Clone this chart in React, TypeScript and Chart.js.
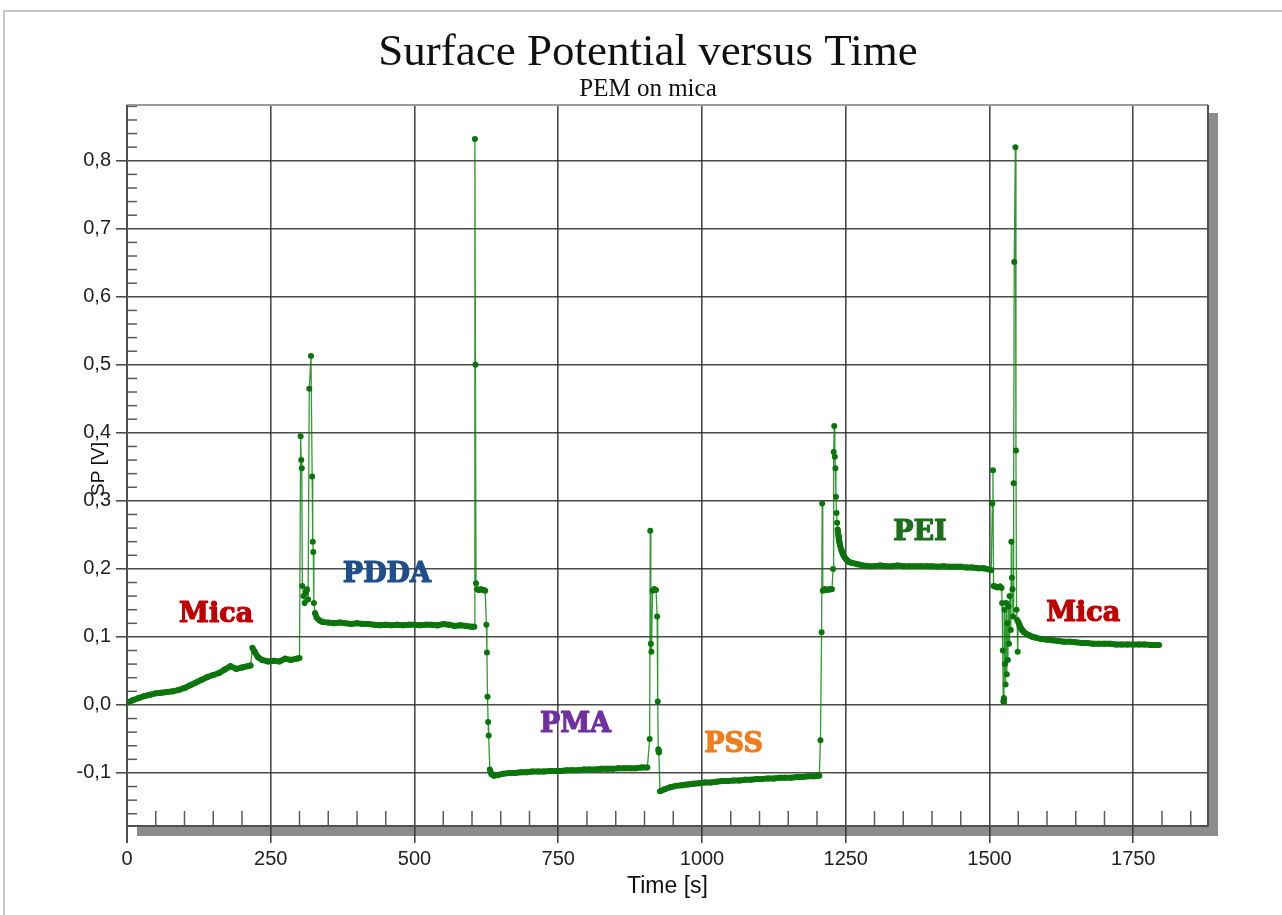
import React, { useEffect, useRef } from "react";
import { Chart, registerables } from "chart.js";

Chart.register(...registerables);

// ---- texts ----
const chartTitle = "Surface Potential versus Time";
const chartSubtitle = "PEM on mica";
const xAxisTitle = "Time [s]";
const yAxisTitle = "SP [V]";

// ---- axis settings ----
const xTickValues = [0, 250, 500, 750, 1000, 1250, 1500, 1750];
const yTickValues = [-0.1, 0, 0.1, 0.2, 0.3, 0.4, 0.5, 0.6, 0.7, 0.8];
const xMin = 0;
const xMax = 1880;
const yMin = -0.178;
const yMax = 0.882;

// ---- data: [time s, SP V] ----
const micaBare: [number, number][] = [
  [0, 0.003], [10, 0.007], [20, 0.010], [30, 0.013], [40, 0.015], [50, 0.017],
  [60, 0.018], [70, 0.019], [80, 0.020], [90, 0.022], [100, 0.025], [110, 0.029],
  [120, 0.033], [130, 0.037], [140, 0.041], [150, 0.044], [160, 0.047], [170, 0.052],
  [180, 0.057], [190, 0.053], [200, 0.055], [210, 0.057], [215, 0.058], [218, 0.084],
  [222, 0.078], [228, 0.070], [235, 0.066], [245, 0.064], [255, 0.065], [265, 0.064],
  [275, 0.068], [285, 0.066], [295, 0.068], [300, 0.069],
];

const pddaLayer: [number, number][] = [
  [302, 0.395], [303, 0.360], [304, 0.348], [305, 0.175], [307, 0.160], [309, 0.150],
  [311, 0.165], [313, 0.170], [315, 0.155], [317, 0.465], [320, 0.513], [322, 0.336],
  [323, 0.240], [324, 0.225], [325, 0.150], [327, 0.135], [330, 0.128], [335, 0.124],
  [340, 0.122], [350, 0.121], [360, 0.120], [370, 0.121], [380, 0.120], [390, 0.119],
  [400, 0.120], [410, 0.119], [420, 0.119], [430, 0.118], [440, 0.117], [450, 0.118],
  [460, 0.117], [470, 0.118], [480, 0.117], [490, 0.118], [500, 0.118], [510, 0.117],
  [520, 0.118], [530, 0.118], [540, 0.117], [550, 0.119], [560, 0.118], [570, 0.116],
  [580, 0.117], [590, 0.116], [600, 0.115], [604, 0.115],
];

const pmaLayer: [number, number][] = [
  [605, 0.832], [606, 0.500], [607, 0.179], [609, 0.170], [612, 0.169], [616, 0.170],
  [620, 0.169], [623, 0.168], [625, 0.118], [626, 0.077], [627, 0.012], [628, -0.025],
  [629, -0.045], [631, -0.095], [634, -0.102], [638, -0.104], [645, -0.103], [655, -0.101],
  [665, -0.100], [675, -0.100], [685, -0.099], [695, -0.099], [705, -0.098], [715, -0.098],
  [725, -0.098], [735, -0.097], [745, -0.097], [755, -0.097], [765, -0.096], [775, -0.096],
  [785, -0.096], [795, -0.095], [805, -0.095], [815, -0.095], [825, -0.094], [835, -0.094],
  [845, -0.094], [855, -0.093], [865, -0.093], [875, -0.093], [885, -0.093], [895, -0.092],
  [905, -0.092],
];

const pssLayer: [number, number][] = [
  [909, -0.050], [910, 0.256], [911, 0.090], [912, 0.078], [914, 0.168], [917, 0.170],
  [920, 0.169], [922, 0.130], [923, 0.005], [924, -0.065], [925, -0.070], [927, -0.127],
  [935, -0.124], [945, -0.121], [955, -0.119], [965, -0.118], [975, -0.117], [985, -0.116],
  [995, -0.115], [1005, -0.114], [1015, -0.114], [1025, -0.113], [1035, -0.112], [1045, -0.112],
  [1055, -0.111], [1065, -0.111], [1075, -0.110], [1085, -0.110], [1095, -0.109], [1105, -0.109],
  [1115, -0.108], [1125, -0.108], [1135, -0.107], [1145, -0.107], [1155, -0.107], [1165, -0.106],
  [1175, -0.106], [1185, -0.105], [1195, -0.105], [1204, -0.104],
];

const peiLayer: [number, number][] = [
  [1206, -0.052], [1208, 0.107], [1209, 0.296], [1210, 0.168], [1214, 0.170], [1218, 0.169],
  [1222, 0.170], [1226, 0.170], [1228, 0.200], [1229, 0.372], [1230, 0.410], [1231, 0.365],
  [1232, 0.348], [1233, 0.306], [1234, 0.282], [1235, 0.268], [1236, 0.258], [1237, 0.250],
  [1238, 0.244], [1239, 0.239], [1240, 0.235], [1242, 0.229], [1244, 0.224], [1246, 0.220],
  [1248, 0.217], [1250, 0.215], [1253, 0.212], [1256, 0.210], [1260, 0.209], [1270, 0.207],
  [1280, 0.205], [1290, 0.204], [1300, 0.204], [1310, 0.205], [1320, 0.204], [1330, 0.204],
  [1340, 0.205], [1350, 0.204], [1360, 0.204], [1370, 0.204], [1380, 0.204], [1390, 0.204],
  [1400, 0.204], [1410, 0.203], [1420, 0.204], [1430, 0.203], [1440, 0.203], [1450, 0.203],
  [1460, 0.202], [1470, 0.202], [1480, 0.201], [1490, 0.201], [1500, 0.199],
];

const micaRinsed: [number, number][] = [
  [1503, 0.198], [1505, 0.296], [1506, 0.345], [1507, 0.175], [1510, 0.174], [1514, 0.173],
  [1518, 0.174], [1521, 0.172], [1522, 0.150], [1523, 0.080], [1524, 0.005], [1525, 0.010],
  [1526, 0.140], [1527, 0.060], [1528, 0.030], [1529, 0.150], [1530, 0.045], [1531, 0.120],
  [1532, 0.066], [1533, 0.145], [1534, 0.090], [1535, 0.160], [1537, 0.110], [1538, 0.240],
  [1539, 0.187], [1540, 0.170], [1541, 0.130], [1542, 0.326], [1543, 0.651], [1545, 0.820],
  [1546, 0.374], [1547, 0.140], [1548, 0.125], [1549, 0.078], [1550, 0.122], [1552, 0.118],
  [1554, 0.114], [1556, 0.111], [1558, 0.109], [1560, 0.107], [1565, 0.104], [1570, 0.102],
  [1575, 0.100], [1580, 0.099], [1590, 0.097], [1600, 0.096], [1610, 0.095], [1620, 0.094],
  [1630, 0.093], [1640, 0.093], [1650, 0.092], [1660, 0.091], [1670, 0.091], [1680, 0.090],
  [1690, 0.090], [1700, 0.090], [1710, 0.090], [1720, 0.089], [1730, 0.089], [1740, 0.089],
  [1750, 0.089], [1760, 0.089], [1770, 0.089], [1780, 0.088], [1790, 0.088], [1795, 0.088],
];

// ---- layer annotations (text, time, SP) ----
const layerNames = ["Mica", "PDDA", "PMA", "PSS", "PEI", "Mica"];
const layerNameT = [155, 452, 780, 1055, 1379, 1663];
const layerNameV = [0.132, 0.191, -0.029, -0.059, 0.253, 0.134];
const layerNameColors = ["#c00000", "#1f4e8c", "#7030a0", "#f07d1c", "#1b6e1b", "#c00000"];

const allPoints = [...micaBare, ...pddaLayer, ...pmaLayer, ...pssLayer, ...peiLayer, ...micaRinsed];

const fmt = (v: number) => {
  const r = Math.round(v * 10) / 10;
  const s = Math.abs(r).toFixed(1).replace(".", ",");
  return r < 0 ? "-" + s : s;
};

const SERIF = '"Liberation Serif", "Times New Roman", serif';
const SANS = '"Liberation Sans", Arial, sans-serif';

const framePlugin = {
  id: "frame",
  beforeDraw(chart: any) {
    const { ctx, chartArea: a } = chart;
    ctx.save();
    ctx.fillStyle = "#ffffff";
    ctx.fillRect(0, 0, chart.width, chart.height);
    // outer picture border
    ctx.strokeStyle = "#c8c8c8";
    ctx.lineWidth = 2;
    ctx.beginPath();
    ctx.moveTo(4, chart.height);
    ctx.lineTo(4, 11);
    ctx.lineTo(chart.width, 11);
    ctx.stroke();
    // 3D shadow bars
    ctx.fillStyle = "#8c8c8c";
    ctx.fillRect(a.right + 1, a.top + 8, 9, a.bottom - a.top + 2);
    ctx.fillRect(a.left + 10, a.bottom + 1, a.right - a.left, 9);
    // titles
    ctx.fillStyle = "#111";
    ctx.textAlign = "center";
    ctx.textBaseline = "alphabetic";
    ctx.font = `45px ${SERIF}`;
    ctx.fillText(chartTitle, 648, 65);
    ctx.font = `25px ${SERIF}`;
    ctx.fillText(chartSubtitle, 648, 96);
    // y axis title
    ctx.save();
    ctx.translate(104, 469);
    ctx.rotate(-Math.PI / 2);
    ctx.font = `19px ${SANS}`;
    ctx.fillStyle = "#111";
    ctx.textAlign = "center";
    ctx.textBaseline = "alphabetic";
    ctx.fillText(yAxisTitle, 0, 0);
    ctx.restore();
    ctx.restore();
  },
  beforeDatasetsDraw(chart: any) {
    const { ctx, chartArea: a, scales } = chart;
    const x = scales.x;
    const y = scales.y;
    ctx.save();
    ctx.strokeStyle = "#5a5a5a";
    ctx.lineWidth = 1.5;
    // y minor ticks
    for (let k = -8; k <= 44; k++) {
      if (k % 5 === 0) continue;
      const v = k * 0.02;
      if (v < yMin || v > yMax) continue;
      const py = y.getPixelForValue(v);
      ctx.beginPath();
      ctx.moveTo(a.left, py);
      ctx.lineTo(a.left + 10, py);
      ctx.stroke();
    }
    // x minor ticks
    for (let t = 50; t < xMax; t += 50) {
      if (t % 250 === 0) continue;
      const px = x.getPixelForValue(t);
      ctx.beginPath();
      ctx.moveTo(px, a.bottom - 15);
      ctx.lineTo(px, a.bottom);
      ctx.stroke();
    }
    // frame lines
    ctx.lineWidth = 2;
    ctx.strokeStyle = "#9a9a9a";
    ctx.beginPath();
    ctx.moveTo(a.left, a.top);
    ctx.lineTo(a.right, a.top);
    ctx.stroke();
    ctx.strokeStyle = "#505050";
    ctx.beginPath();
    ctx.moveTo(a.right, a.top);
    ctx.lineTo(a.right, a.bottom);
    ctx.lineTo(a.left, a.bottom);
    ctx.stroke();
    ctx.beginPath();
    ctx.moveTo(a.left, a.top);
    ctx.lineTo(a.left, a.bottom + 17);
    ctx.stroke();
    ctx.restore();
  },
  afterDatasetsDraw(chart: any) {
    const { ctx, scales } = chart;
    ctx.save();
    ctx.font = `bold 27px "DejaVu Serif"`;
    ctx.textAlign = "center";
    ctx.textBaseline = "middle";
    ctx.lineWidth = 1.2;
    ctx.lineJoin = "round";
    layerNames.forEach((name, i) => {
      const px = scales.x.getPixelForValue(layerNameT[i]);
      const py = scales.y.getPixelForValue(layerNameV[i]);
      ctx.fillStyle = layerNameColors[i];
      ctx.strokeStyle = layerNameColors[i];
      ctx.fillText(name, px, py);
      ctx.strokeText(name, px, py);
    });
    ctx.restore();
  },
};

export default function App() {
  const canvasRef = useRef<HTMLCanvasElement | null>(null);

  useEffect(() => {
    const canvas = canvasRef.current;
    if (!canvas) return;
    const chart = new Chart(canvas, {
      type: "line",
      data: {
        datasets: [
          {
            label: "SP",
            data: allPoints.map(([t, v]) => ({ x: t, y: v })),
            borderColor: "rgba(0,128,0,0.8)",
            borderWidth: 1.3,
            pointRadius: 3,
            pointBorderWidth: 0,
            pointBackgroundColor: "#0b740b",
            tension: 0,
            segment: {
              borderWidth: (c: any) => (Math.abs(c.p1.y - c.p0.y) < 6 ? 6 : 1.3),
              borderColor: (c: any) => (Math.abs(c.p1.y - c.p0.y) < 6 ? "#0f7a0f" : "rgba(0,128,0,0.8)"),
            },
          },
        ],
      },
      options: {
        animation: false,
        responsive: false,
        devicePixelRatio: 1,
        layout: { padding: { left: 0, right: 74, top: 105, bottom: 0 } },
        plugins: {
          legend: { display: false },
          tooltip: { enabled: false },
          title: { display: false },
        },
        scales: {
          x: {
            type: "linear",
            min: xMin,
            max: xMax,
            afterFit: (s: any) => {
              s.height = 89;
            },
            afterBuildTicks: (s: any) => {
              s.ticks = xTickValues.map((v) => ({ value: v }));
            },
            ticks: {
              color: "#222",
              font: { family: SANS, size: 20 },
              padding: 4,
              maxRotation: 0,
              callback: (v: any) => String(v),
            },
            grid: {
              color: "rgba(45,45,45,0.85)",
              lineWidth: 1.6,
              tickLength: 17,
              drawTicks: true,
            },
            border: { display: false },
            title: {
              display: true,
              text: xAxisTitle,
              color: "#111",
              font: { family: SANS, size: 23 },
              padding: { top: 0, bottom: 15 },
            },
          },
          y: {
            type: "linear",
            min: yMin,
            max: yMax,
            afterFit: (s: any) => {
              s.width = 127;
            },
            afterBuildTicks: (s: any) => {
              s.ticks = yTickValues.map((v) => ({ value: v }));
            },
            ticks: {
              color: "#222",
              font: { family: SANS, size: 20 },
              padding: 5,
              callback: (v: any) => fmt(Number(v)),
            },
            grid: {
              color: "rgba(45,45,45,0.85)",
              lineWidth: 1.6,
              tickLength: 11,
              drawTicks: true,
            },
            border: { display: false },
            title: { display: false },
          },
        },
      },
      plugins: [framePlugin],
    });
    return () => chart.destroy();
  }, []);

  return (
    <div style={{ position: "fixed", left: 0, top: 0, width: 1282, height: 915, background: "#fff" }}>
      <canvas ref={canvasRef} width={1282} height={915} style={{ width: 1282, height: 915, display: "block" }} />
    </div>
  );
}
